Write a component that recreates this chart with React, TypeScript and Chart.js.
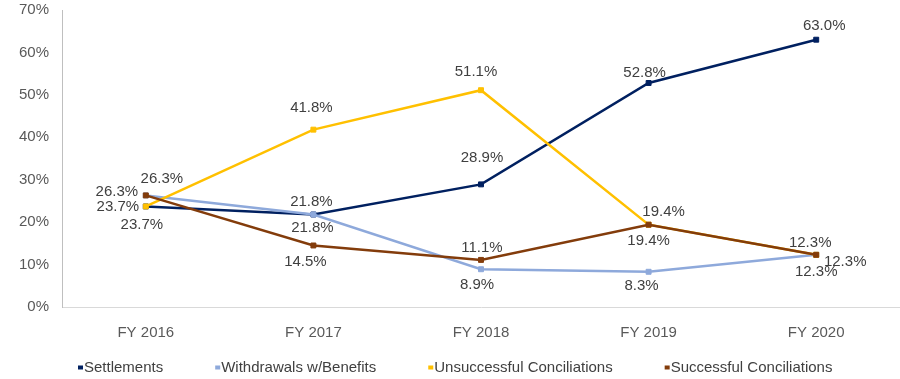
import { useEffect, useRef } from "react";
import { Chart, registerables } from "chart.js";

Chart.register(...registerables);

const categories = ["FY 2016", "FY 2017", "FY 2018", "FY 2019", "FY 2020"];
const seriesNames = ["Settlements", "Withdrawals w/Benefits", "Unsuccessful Conciliations", "Successful Conciliations"];
const settlements = [23.7, 21.8, 28.9, 52.8, 63.0];
const withdrawals = [26.3, 21.8, 8.9, 8.3, 12.3];
const unsuccessful = [23.7, 41.8, 51.1, 19.4, 12.3];
const successful = [26.3, 14.5, 11.1, 19.4, 12.3];
const yTickValues = [0, 10, 20, 30, 40, 50, 60, 70];

const colors = ["#002060", "#8EA9DB", "#FFC000", "#833C0B"];

// label offsets (styling only), [dx, dy] relative to each point
const labelOffsets: number[][][] = [
  [[-4, 18], [-2, -13], [1, -27], [-4, -10], [8, -14]],
  [[16, -17], [-1, 13], [-4, 16], [-7, 14], [0, 17]],
  [[-28, 0], [-2, -22], [-5, -18], [15, -13], [29, 7]],
  [[-29, -4], [-8, 16], [1, -12], [0, 16], [-6, -12]],
];

const fontFamily = "'Liberation Sans', Arial, sans-serif";

const dataLabelPlugin = {
  id: "dataLabels",
  afterDatasetsDraw(chart: any) {
    const ctx = chart.ctx;
    ctx.save();
    ctx.font = "15px " + fontFamily;
    ctx.fillStyle = "#404040";
    ctx.textAlign = "center";
    ctx.textBaseline = "middle";
    chart.data.datasets.forEach((ds: any, i: number) => {
      const meta = chart.getDatasetMeta(i);
      meta.data.forEach((el: any, j: number) => {
        const v = ds.data[j] as number;
        const off = labelOffsets[i][j];
        ctx.fillText(v.toFixed(1) + "%", el.x + off[0], el.y + off[1]);
      });
    });
    ctx.restore();
  },
};

const legendPlugin = {
  id: "customLegend",
  afterDraw(chart: any) {
    const ctx = chart.ctx;
    ctx.save();
    ctx.font = "15px " + fontFamily;
    ctx.textBaseline = "middle";
    ctx.textAlign = "left";
    const y = chart.height - 11.5;
    let x = 78;
    chart.data.datasets.forEach((ds: any, i: number) => {
      ctx.fillStyle = colors[i];
      ctx.fillRect(x, y - 2, 5, 4);
      const tx = x + 6;
      const w = ctx.measureText(ds.label).width;
      ctx.fillStyle = "#404040";
      ctx.fillText(ds.label, tx, y);
      x = tx + w + 52;
    });
    ctx.restore();
  },
};

export default function App() {
  const ref = useRef<HTMLCanvasElement | null>(null);
  useEffect(() => {
    document.body.style.margin = "0";
    if (!ref.current) return;
    const series = [settlements, withdrawals, unsuccessful, successful];
    const chart = new Chart(ref.current, {
      type: "line",
      data: {
        labels: categories,
        datasets: series.map((d, i) => ({
          label: seriesNames[i],
          data: d,
          order: series.length - i,
          borderColor: colors[i],
          backgroundColor: colors[i],
          borderWidth: 2.5,
          pointStyle: "rect",
          pointRadius: 3.5,
          pointBorderWidth: 1,
          pointBorderColor: colors[i],
          pointBackgroundColor: colors[i],
          tension: 0,
        })),
      },
      options: {
        responsive: false,
        animation: false,
        layout: { autoPadding: false, padding: { top: 0, left: 0, right: 0, bottom: 0 } },
        plugins: {
          legend: { display: false },
          tooltip: { enabled: false },
        },
        scales: {
          x: {
            offset: true,
            grid: { display: false },
            border: { display: true, color: "#D9D9D9", width: 1 },
            ticks: {
              color: "#595959",
              font: { family: fontFamily, size: 15 },
              padding: 9,
            },
            afterFit: (scale: any) => {
              scale.height = 72;
              scale.paddingLeft = 0;
              scale.paddingRight = 0;
            },
          },
          y: {
            min: 0,
            max: 70,
            afterBuildTicks: (scale: any) => {
              scale.ticks = yTickValues.map((v) => ({ value: v }));
            },
            grid: { display: false, drawTicks: false },
            border: { display: true, color: "#BFBFBF", width: 1 },
            ticks: {
              color: "#595959",
              font: { family: fontFamily, size: 15 },
              padding: 13,
              callback: (v: any) => v + "%",
            },
            afterFit: (scale: any) => {
              scale.width = 62;
              scale.paddingTop = 10;
              scale.paddingBottom = 0;
            },
          },
        },
      },
      plugins: [dataLabelPlugin, legendPlugin],
    });
    return () => chart.destroy();
  }, []);
  return (
    <div style={{ width: 900, height: 379 }}>
      <canvas ref={ref} width={900} height={379} style={{ display: "block" }} />
    </div>
  );
}
